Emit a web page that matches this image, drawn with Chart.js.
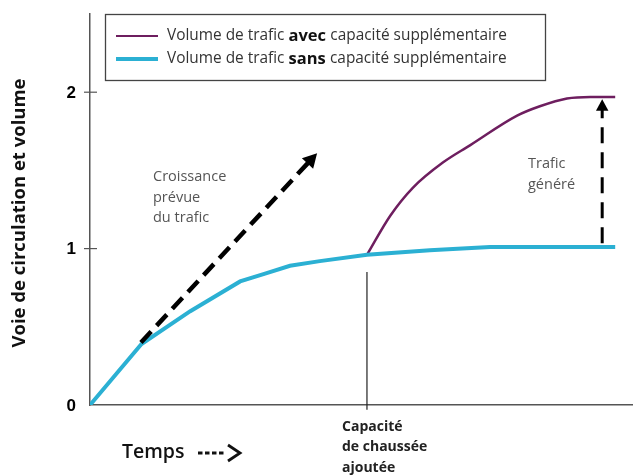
<!DOCTYPE html>
<html lang="fr">
<head>
  <meta charset="UTF-8" />
  <title>Trafic généré</title>
  <script src="https://cdn.jsdelivr.net/npm/chart.js"></script>
  <style>
    html, body { margin: 0; padding: 0; background: #fff; }
    #wrap { width: 633px; height: 475px; }
  </style>
</head>
<body>
  <div id="wrap"><canvas id="trafficChart" width="633" height="475"></canvas></div>

  <script>
    // Courbes (temps en unités arbitraires, volume relatif)
    const timeSans = [0, 0.95, 1.85, 2.77, 3.23, 3.69, 4.24, 5.11, 6.27, 7.38, 9.69];
    const volSans = [0, 0.39, 0.60, 0.79, 0.84, 0.89, 0.92, 0.96, 0.99, 1.01, 1.01];
    const timeAvec = [5.11, 5.54, 5.96, 6.51, 7.01, 7.88, 8.30, 8.80, 9.23, 9.69];
    const volAvec = [0.96, 1.21, 1.39, 1.55, 1.66, 1.85, 1.91, 1.96, 1.97, 1.97];
    const yTicks = [0, 1, 2];

    // Flèches et repères
    const growthArrow = [[0.94, 0.40], [4.19, 1.61]];
    const generatedArrow = [[9.45, 1.035], [9.45, 1.955]];
    const capacityMark = [[5.11, 0.85], [5.11, -0.03]];

    const toPoints = (xs, ys) => xs.map((x, i) => ({ x: x, y: ys[i] }));

    const purple = "#6e1e5f";
    const cyan = "#2bb0d3";

    function arrowHead(ctx, x1, y1, x2, y2, size) {
      const a = Math.atan2(y2 - y1, x2 - x1);
      ctx.beginPath();
      ctx.moveTo(x2, y2);
      ctx.lineTo(x2 - size * Math.cos(a - 0.5), y2 - size * Math.sin(a - 0.5));
      ctx.lineTo(x2 - size * Math.cos(a + 0.5), y2 - size * Math.sin(a + 0.5));
      ctx.closePath();
      ctx.fill();
    }

    const extras = {
      id: "extras",
      afterDraw(chart) {
        const { ctx, scales: { x, y } } = chart;
        const px = (p) => [x.getPixelForValue(p[0]), y.getPixelForValue(p[1])];
        ctx.save();

        // graduations qui traversent l'axe + libellés
        ctx.strokeStyle = "#555";
        ctx.lineWidth = 1.2;
        ctx.fillStyle = "#000";
        ctx.font = "bold 17px 'Liberation Sans', Arial";
        ctx.textAlign = "right";
        ctx.textBaseline = "middle";
        yTicks.forEach((v) => {
          const yy = y.getPixelForValue(v);
          if (v > 0) {
            ctx.beginPath();
            ctx.moveTo(x.left - 6, yy);
            ctx.lineTo(x.left + 7, yy);
            ctx.stroke();
          }
          ctx.fillText(String(v), 76, yy + 1);
        });

        // repère capacité ajoutée
        let [a, b] = [px(capacityMark[0]), px(capacityMark[1])];
        ctx.strokeStyle = "#222";
        ctx.lineWidth = 1.2;
        ctx.beginPath();
        ctx.moveTo(a[0], a[1]);
        ctx.lineTo(b[0], b[1]);
        ctx.stroke();

        // flèche croissance prévue
        ctx.fillStyle = "#000";
        ctx.strokeStyle = "#000";
        [a, b] = [px(growthArrow[0]), px(growthArrow[1])];
        let ang = Math.atan2(b[1] - a[1], b[0] - a[0]);
        ctx.lineWidth = 4.5;
        ctx.setLineDash([15, 8]);
        ctx.beginPath();
        ctx.moveTo(a[0], a[1]);
        ctx.lineTo(b[0] - 12 * Math.cos(ang), b[1] - 12 * Math.sin(ang));
        ctx.stroke();
        ctx.setLineDash([]);
        arrowHead(ctx, a[0], a[1], b[0], b[1], 16);

        // flèche trafic généré
        [a, b] = [px(generatedArrow[0]), px(generatedArrow[1])];
        ctx.lineWidth = 3;
        ctx.setLineDash([16, 9]);
        ctx.beginPath();
        ctx.moveTo(a[0], a[1]);
        ctx.lineTo(b[0], b[1] + 10);
        ctx.stroke();
        ctx.setLineDash([]);
        arrowHead(ctx, a[0], a[1], b[0], b[1], 13);

        // textes
        ctx.textAlign = "left";
        ctx.fillStyle = "#555";
        ctx.font = "14.5px 'Open Sans'";
        ["Croissance", "prévue", "du trafic"].forEach((t, i) => ctx.fillText(t, 153, 177 + i * 20.5));
        ["Trafic", "généré"].forEach((t, i) => ctx.fillText(t, 528, 164 + i * 21));

        ctx.fillStyle = "#222";
        ctx.font = "bold 14px 'Open Sans'";
        ["Capacité", "de chaussée", "ajoutée"].forEach((t, i) => ctx.fillText(t, 342, 427 + i * 20.5));

        ctx.fillStyle = "#111";
        ctx.font = "600 19.5px 'Open Sans'";
        ctx.fillText("Temps", 122, 452);
        // petite flèche ---->
        ctx.strokeStyle = "#111";
        ctx.lineWidth = 3;
        for (let i = 0; i < 4; i++) {
          ctx.beginPath();
          ctx.moveTo(198 + i * 7, 453);
          ctx.lineTo(202.5 + i * 7, 453);
          ctx.stroke();
        }
        ctx.lineWidth = 2.8;
        ctx.beginPath();
        ctx.moveTo(228, 445);
        ctx.lineTo(240, 453);
        ctx.lineTo(228, 461);
        ctx.stroke();

        ctx.save();
        ctx.translate(20, 213);
        ctx.rotate(-Math.PI / 2);
        ctx.textAlign = "center";
        ctx.font = "bold 18.5px 'Open Sans'";
        ctx.fillText("Voie de circulation et volume", 0, 0);
        ctx.restore();

        // légende
        ctx.fillStyle = "#fff";
        ctx.fillRect(105, 14, 440, 66);
        ctx.strokeStyle = "#444";
        ctx.lineWidth = 1.3;
        ctx.strokeRect(105.5, 14.5, 440, 66);
        const rows = [
          { color: purple, width: 2.2, bold: "avec", y: 36 },
          { color: cyan, width: 4, bold: "sans", y: 59 }
        ];
        rows.forEach((r) => {
          ctx.strokeStyle = r.color;
          ctx.lineWidth = r.width;
          ctx.beginPath();
          ctx.moveTo(116, r.y);
          ctx.lineTo(158, r.y);
          ctx.stroke();
          let tx = 167;
          ctx.fillStyle = "#333";
          ctx.font = "15.4px 'Open Sans'";
          ctx.fillText("Volume de trafic ", tx, r.y);
          tx += ctx.measureText("Volume de trafic ").width;
          ctx.fillStyle = "#111";
          ctx.font = "bold 16.5px 'Open Sans'";
          ctx.fillText(r.bold, tx, r.y);
          tx += ctx.measureText(r.bold + " ").width;
          ctx.fillStyle = "#333";
          ctx.font = "15.4px 'Open Sans'";
          ctx.fillText("capacité supplémentaire", tx, r.y);
        });

        ctx.restore();
      }
    };

    new Chart(document.getElementById("trafficChart"), {
      type: "line",
      data: {
        datasets: [
          {
            label: "Volume de trafic sans capacité supplémentaire",
            data: toPoints(timeSans, volSans),
            borderColor: cyan,
            borderWidth: 4,
            pointRadius: 0,
            tension: 0,
            order: 0
          },
          {
            label: "Volume de trafic avec capacité supplémentaire",
            data: toPoints(timeAvec, volAvec),
            borderColor: purple,
            borderWidth: 2.5,
            pointRadius: 0,
            cubicInterpolationMode: "monotone",
            order: 1
          }
        ]
      },
      plugins: [extras],
      options: {
        responsive: false,
        animation: false,
        events: [],
        layout: { padding: { top: 14, right: 1, left: 0, bottom: 0 } },
        plugins: { legend: { display: false }, tooltip: { enabled: false } },
        scales: {
          x: {
            type: "linear",
            min: 0,
            max: 10,
            grid: { display: false },
            border: { display: true, color: "#555", width: 1.5 },
            ticks: { display: false },
            afterFit: (s) => { s.height = 70; }
          },
          y: {
            min: 0,
            max: 2.5,
            grid: { display: false },
            border: { display: true, color: "#555", width: 1.5 },
            ticks: { display: false },
            afterFit: (s) => { s.width = 90; }
          }
        }
      }
    });
  </script>
</body>
</html>
